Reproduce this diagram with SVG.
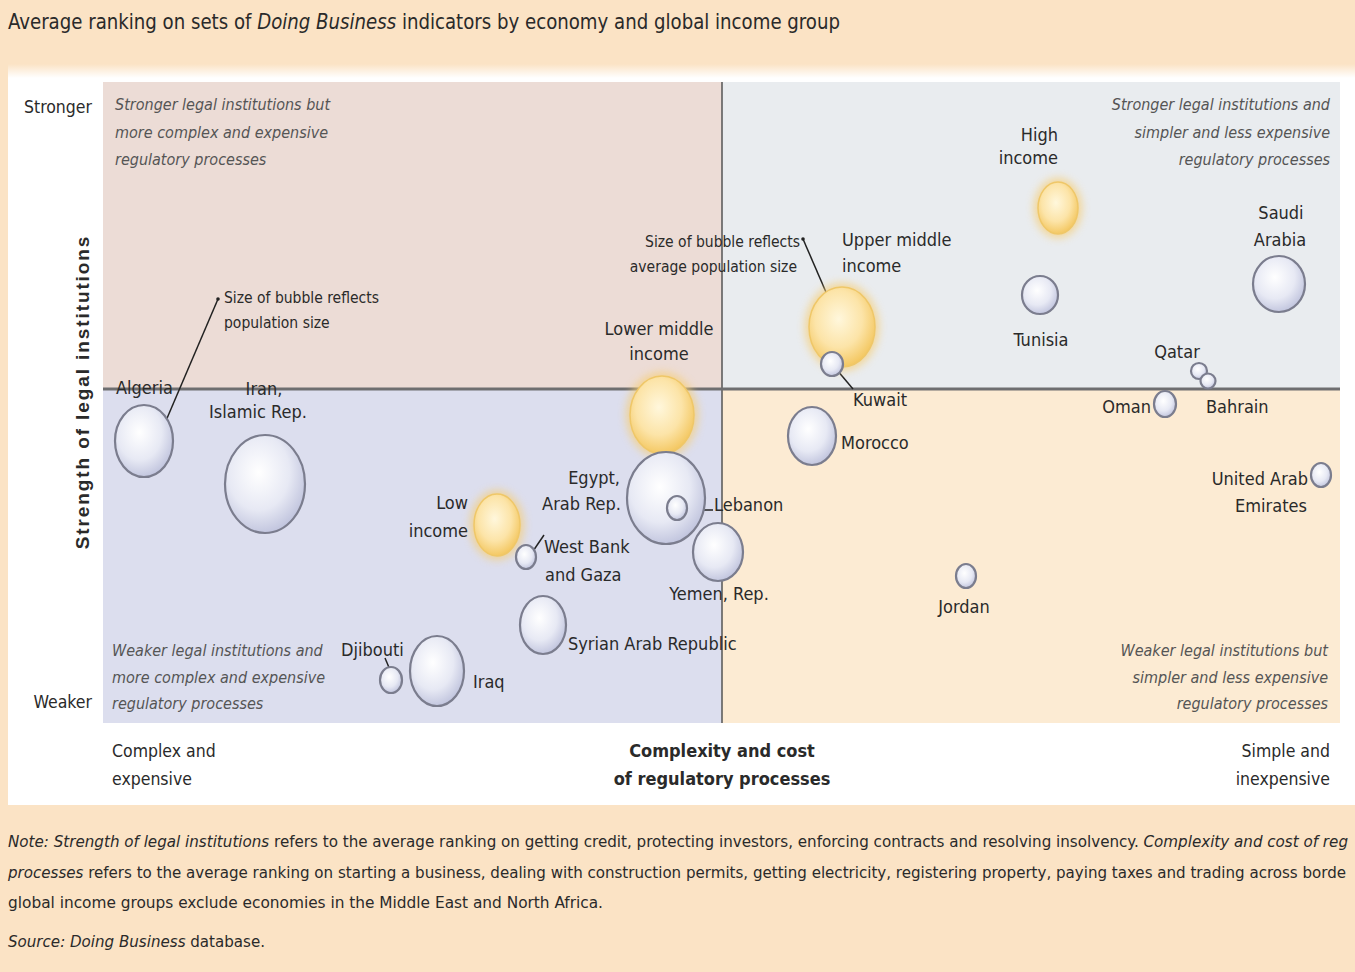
<svg xmlns="http://www.w3.org/2000/svg" width="1355" height="972" viewBox="0 0 1355 972">
<defs>
<style>
text{font-family:"Liberation Sans Narrow","DejaVu Sans Condensed","Liberation Sans",sans-serif;fill:#2a2a2a}
.t{font-size:20.5px}
.ax{font-size:17.5px}
.lb{font-size:18px}
.sz{font-size:15.5px}
.cap{font-size:16px;font-style:italic;fill:#555}
.bold{font-weight:bold}
.note{font-size:16px}
.it{font-style:italic}
.e{text-anchor:end}
.m{text-anchor:middle}
.b{fill:url(#gb);stroke:#7b7d8e;stroke-width:2.2}
.o{fill:url(#go);stroke:#efc768;stroke-width:1.5}
.glow{fill:#f6cf78;opacity:0.75;filter:url(#blur)}
.ld{stroke:#222;stroke-width:1.5;fill:none}
</style>
<radialGradient id="gb" cx="0.42" cy="0.38" r="0.7">
<stop offset="0" stop-color="#ffffff"/>
<stop offset="0.55" stop-color="#e7e9f4"/>
<stop offset="1" stop-color="#b7bbd8"/>
</radialGradient>
<radialGradient id="go" cx="0.45" cy="0.4" r="0.65">
<stop offset="0" stop-color="#fff7dc"/>
<stop offset="0.55" stop-color="#fce4a8"/>
<stop offset="1" stop-color="#f2c254"/>
</radialGradient>
<linearGradient id="topfade" x1="0" y1="0" x2="0" y2="1">
<stop offset="0" stop-color="#fbe3c5"/>
<stop offset="1" stop-color="#ffffff"/>
</linearGradient>
<filter id="blur" x="-50%" y="-50%" width="200%" height="200%">
<feGaussianBlur stdDeviation="4"/>
</filter>
</defs>

<!-- background -->
<rect x="0" y="0" width="1355" height="972" fill="#fbe3c5"/>
<rect x="8" y="64" width="1347" height="14" fill="url(#topfade)"/>
<rect x="8" y="78" width="1347" height="727" fill="#ffffff"/>

<!-- quadrants -->
<rect x="103" y="82" width="619" height="307" fill="#ecdcd6"/>
<rect x="722" y="82" width="618" height="307" fill="#e9ecef"/>
<rect x="103" y="389" width="619" height="334" fill="#dcdeee"/>
<rect x="722" y="389" width="618" height="334" fill="#fcebd3"/>
<line x1="722" y1="82" x2="722" y2="723" stroke="#555" stroke-width="1.5"/>
<line x1="103" y1="389" x2="1340" y2="389" stroke="#6e6e70" stroke-width="3"/>

<!-- title -->
<text class="t" x="8" y="29" textLength="832" lengthAdjust="spacingAndGlyphs">Average ranking on sets of <tspan class="it">Doing Business</tspan> indicators by economy and global income group</text>

<!-- axis labels -->
<text class="ax e" x="92" y="113">Stronger</text>
<text class="ax e" x="92" y="708">Weaker</text>
<text class="bold" transform="translate(89,392) rotate(-90)" text-anchor="middle" style="font-family:'Liberation Sans',sans-serif;font-size:19px;letter-spacing:1.9px">Strength of legal institutions</text>
<text class="ax" x="112" y="757">Complex and</text>
<text class="ax" x="112" y="785">expensive</text>
<text class="ax m bold" x="722" y="757" style="font-size:18px">Complexity and cost</text>
<text class="ax m bold" x="722" y="785" style="font-size:18px">of regulatory processes</text>
<text class="ax e" x="1330" y="757">Simple and</text>
<text class="ax e" x="1330" y="785">inexpensive</text>

<!-- quadrant captions -->
<text class="cap" x="115" y="110">Stronger legal institutions but</text>
<text class="cap" x="115" y="138">more complex and expensive</text>
<text class="cap" x="115" y="165">regulatory processes</text>
<text class="cap e" x="1330" y="110">Stronger legal institutions and</text>
<text class="cap e" x="1330" y="138">simpler and less expensive</text>
<text class="cap e" x="1330" y="165">regulatory processes</text>
<text class="cap" x="112" y="656">Weaker legal institutions and</text>
<text class="cap" x="112" y="683">more complex and expensive</text>
<text class="cap" x="112" y="709">regulatory processes</text>
<text class="cap e" x="1328" y="656">Weaker legal institutions but</text>
<text class="cap e" x="1328" y="683">simpler and less expensive</text>
<text class="cap e" x="1328" y="709">regulatory processes</text>

<!-- connectors -->
<g id="connectors">
<line class="ld" x1="218" y1="299" x2="162" y2="430"/>
<circle cx="218" cy="299" r="1.8" fill="#222"/>
<line class="ld" x1="803" y1="239" x2="832" y2="306"/>
<circle cx="803" cy="239" r="1.8" fill="#222"/>
<line class="ld" x1="837" y1="370" x2="853" y2="389"/>
<line class="ld" x1="682" y1="510" x2="713" y2="510"/>
<line class="ld" x1="529" y1="557" x2="544" y2="535"/>
<line class="ld" x1="385" y1="658" x2="393" y2="677"/>
</g>

<!-- income group bubbles -->
<g id="low-income">
<ellipse class="glow" cx="497" cy="525" rx="27" ry="35"/>
<ellipse class="o" cx="497" cy="525" rx="23" ry="31"/>
<text class="lb e" x="468" y="509">Low</text>
<text class="lb e" x="468" y="537">income</text>
</g>
<g id="lower-middle-income">
<ellipse class="glow" cx="662" cy="415" rx="36" ry="43"/>
<ellipse class="o" cx="662" cy="415" rx="32" ry="39"/>
<text class="lb m" x="659" y="335">Lower middle</text>
<text class="lb m" x="659" y="360">income</text>
</g>
<g id="upper-middle-income">
<ellipse class="glow" cx="842" cy="327" rx="37" ry="44"/>
<ellipse class="o" cx="842" cy="327" rx="33" ry="40"/>
<text class="lb" x="842" y="246">Upper middle</text>
<text class="lb" x="842" y="272">income</text>
<text class="sz e" x="800" y="247">Size of bubble reflects</text>
<text class="sz e" x="797" y="272">average population size</text>
</g>
<g id="high-income">
<ellipse class="glow" cx="1058" cy="208" rx="24" ry="30"/>
<ellipse class="o" cx="1058" cy="208" rx="20" ry="26"/>
<text class="lb e" x="1058" y="141">High</text>
<text class="lb e" x="1058" y="164">income</text>
</g>

<!-- economies -->
<g id="algeria">
<ellipse class="b" cx="144" cy="441" rx="29" ry="36"/>
<text class="lb" x="116" y="394">Algeria</text>
<text class="sz" x="224" y="303">Size of bubble reflects</text>
<text class="sz" x="224" y="328">population size</text>
</g>
<g id="iran">
<ellipse class="b" cx="265" cy="484" rx="40" ry="49"/>
<text class="lb m" x="264" y="395">Iran,</text>
<text class="lb m" x="258" y="418">Islamic Rep.</text>
</g>
<g id="west-bank-gaza">
<ellipse class="b" cx="526" cy="557" rx="10" ry="12"/>
<text class="lb" x="544" y="553">West Bank</text>
<text class="lb" x="545" y="581">and Gaza</text>
</g>
<g id="egypt">
<ellipse class="b" cx="666" cy="498" rx="39" ry="46"/>
<text class="lb e" x="620" y="484">Egypt,</text>
<text class="lb e" x="621" y="510">Arab Rep.</text>
</g>
<g id="lebanon">
<ellipse class="b" cx="677" cy="508" rx="10" ry="12"/>
<text class="lb" x="714" y="511">Lebanon</text>
</g>
<g id="yemen">
<ellipse class="b" cx="718" cy="552" rx="25" ry="29"/>
<text class="lb m" x="719" y="600">Yemen, Rep.</text>
</g>
<g id="syria">
<ellipse class="b" cx="543" cy="625" rx="23" ry="29"/>
<text class="lb" x="568" y="650">Syrian Arab Republic</text>
</g>
<g id="djibouti">
<ellipse class="b" cx="391" cy="680" rx="11" ry="13"/>
<text class="lb" x="341" y="656">Djibouti</text>
</g>
<g id="iraq">
<ellipse class="b" cx="437" cy="671" rx="27" ry="35"/>
<text class="lb" x="473" y="688">Iraq</text>
</g>
<g id="kuwait">
<ellipse class="b" cx="832" cy="364" rx="11" ry="12"/>
<text class="lb" x="853" y="406">Kuwait</text>
</g>
<g id="morocco">
<ellipse class="b" cx="812" cy="436" rx="24" ry="29"/>
<text class="lb" x="841" y="449">Morocco</text>
</g>
<g id="tunisia">
<ellipse class="b" cx="1040" cy="295" rx="18" ry="19"/>
<text class="lb m" x="1041" y="346">Tunisia</text>
</g>
<g id="saudi-arabia">
<ellipse class="b" cx="1279" cy="284" rx="26" ry="28"/>
<text class="lb m" x="1281" y="219">Saudi</text>
<text class="lb m" x="1280" y="246">Arabia</text>
</g>
<g id="qatar">
<circle class="b" cx="1199" cy="371" r="8"/>
<text class="lb m" x="1177" y="358">Qatar</text>
</g>
<g id="bahrain">
<circle class="b" cx="1208" cy="381" r="7.5"/>
<text class="lb" x="1206" y="413">Bahrain</text>
</g>
<g id="oman">
<ellipse class="b" cx="1165" cy="404" rx="11" ry="13"/>
<text class="lb e" x="1151" y="413">Oman</text>
</g>
<g id="uae">
<ellipse class="b" cx="1321" cy="475" rx="10" ry="12"/>
<text class="lb e" x="1308" y="485">United Arab</text>
<text class="lb m" x="1271" y="512">Emirates</text>
</g>
<g id="jordan">
<ellipse class="b" cx="966" cy="576" rx="10" ry="12"/>
<text class="lb m" x="964" y="613">Jordan</text>
</g>

<!-- notes -->
<text class="note" x="8" y="847" textLength="1340" lengthAdjust="spacingAndGlyphs"><tspan class="it">Note: Strength of legal institutions</tspan> refers to the average ranking on getting credit, protecting investors, enforcing contracts and resolving insolvency. <tspan class="it">Complexity and cost of reg</tspan></text>
<text class="note" x="8" y="878" textLength="1338" lengthAdjust="spacingAndGlyphs"><tspan class="it">processes</tspan> refers to the average ranking on starting a business, dealing with construction permits, getting electricity, registering property, paying taxes and trading across borde</text>
<text class="note" x="8" y="908" textLength="595" lengthAdjust="spacingAndGlyphs">global income groups exclude economies in the Middle East and North Africa.</text>
<text class="note" x="8" y="947" textLength="257" lengthAdjust="spacingAndGlyphs"><tspan class="it">Source: Doing Business</tspan> database.</text>
</svg>
